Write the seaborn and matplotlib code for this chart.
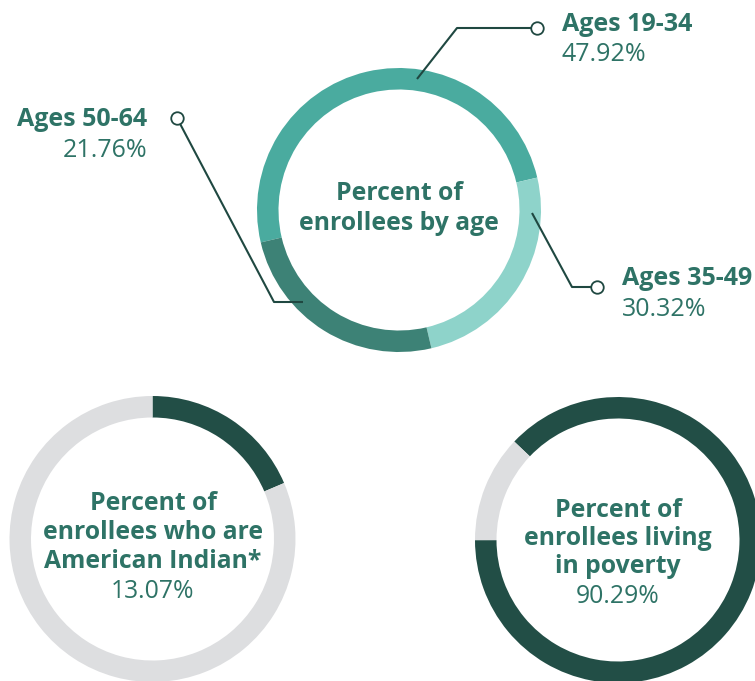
import matplotlib
matplotlib.use("Agg")
import matplotlib.pyplot as plt
import seaborn as sns

# --- data ---
age_groups = ["Ages 19-34", "Ages 35-49", "Ages 50-64"]
age_pct_text = ["47.92%", "30.32%", "21.76%"]
age_ring = [50.0, 25.0, 25.0]          # share of the ring each arc takes in the picture

indian_text = ["Percent of", "enrollees who are", "American Indian*"]
indian_pct_text = "13.07%"
indian_ring = [18.6, 81.4]

poverty_text = ["Percent of", "enrollees living", "in poverty"]
poverty_pct_text = "90.29%"
poverty_ring = [87.9, 12.1]

age_title = ["Percent of", "enrollees by age"]

# --- colours ---
teal = "#4aab9f"
light_teal = "#8ed3ca"
dark_teal = "#3d8276"
dark_green = "#224e46"
grey = "#dddee0"
text_col = "#2e7366"
line_col = "#1f4841"

sns.set_theme(style="white")
plt.rcParams["font.family"] = ["Open Sans", "DejaVu Sans"]

W, H = 755, 681
fig = plt.figure(figsize=(W / 100, H / 100), dpi=100)
ax = fig.add_axes([0, 0, 1, 1])


def py(y):
    # picture rows run downwards, the axes run upwards
    return H - y


ring_w = 21.5
wp = dict(width=ring_w, edgecolor="none", linewidth=0)

ax.pie(age_ring, colors=[teal, light_teal, dark_teal], startangle=193.2,
       counterclock=False, radius=142, center=(399, py(210)), wedgeprops=wp)
ax.pie(indian_ring, colors=[dark_green, grey], startangle=90,
       counterclock=False, radius=143, center=(152.5, py(539)), wedgeprops=wp)
ax.pie(poverty_ring, colors=[dark_green, grey], startangle=136.5,
       counterclock=False, radius=143, center=(618, py(540)), wedgeprops=wp)

ax.set_xlim(0, W)
ax.set_ylim(0, H)
ax.set_aspect("equal")
ax.axis("off")

# --- leader lines ---
leaders = [
    ([417, 457, 537], [79, 28, 28]),
    ([303, 274, 177], [302, 302, 118]),
    ([532, 572, 597], [213, 287, 287]),
]
for xs, ys in leaders:
    ax.plot(xs, [py(v) for v in ys], color=line_col, lw=1.5, solid_capstyle="butt", zorder=3)
    ax.plot(xs[-1], py(ys[-1]), marker="o", ms=9, mfc="white", mec=line_col, mew=1.3, zorder=4)

# --- age labels ---
lab_size = 18
ax.text(562, py(31), age_groups[0], fontsize=lab_size, fontweight="bold", color=text_col, ha="left", va="baseline")
ax.text(562, py(61), age_pct_text[0], fontsize=lab_size, color=text_col, ha="left", va="baseline")
ax.text(622, py(285), age_groups[1], fontsize=lab_size, fontweight="bold", color=text_col, ha="left", va="baseline")
ax.text(622, py(316), age_pct_text[1], fontsize=lab_size, color=text_col, ha="left", va="baseline")
ax.text(147, py(126), age_groups[2], fontsize=lab_size, fontweight="bold", color=text_col, ha="right", va="baseline")
ax.text(147, py(157), age_pct_text[2], fontsize=lab_size, color=text_col, ha="right", va="baseline")

# --- centre texts ---
c_size = 17.8
for i, line in enumerate(age_title):
    ax.text(399, py(200 + 30 * i), line, fontsize=c_size, fontweight="bold", color=text_col, ha="center", va="baseline")

for i, line in enumerate(indian_text):
    ax.text(153, py(510 + 29 * i), line, fontsize=c_size, fontweight="bold", color=text_col, ha="center", va="baseline")
ax.text(153, py(598), indian_pct_text, fontsize=c_size, color=text_col, ha="center", va="baseline")

for i, line in enumerate(poverty_text):
    ax.text(618, py(517 + 28 * i), line, fontsize=c_size, fontweight="bold", color=text_col, ha="center", va="baseline")
ax.text(618, py(603), poverty_pct_text, fontsize=c_size, color=text_col, ha="center", va="baseline")

fig.savefig("out.png", dpi=100)
